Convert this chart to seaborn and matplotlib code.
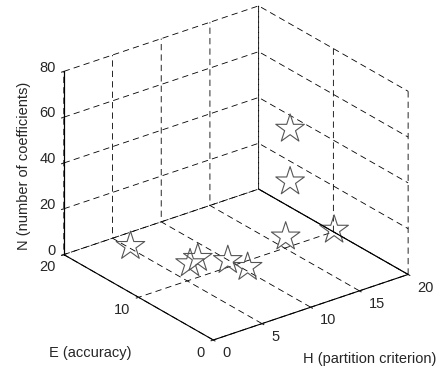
import numpy as np
import matplotlib
matplotlib.use("Agg")
import matplotlib.pyplot as plt
import seaborn as sns
from matplotlib.transforms import IdentityTransform
from mpl_toolkits.mplot3d import proj3d

# Models: partition criterion H, accuracy E, number of coefficients N
H = [5.0, 6.9, 8.0, 9.7, 10.2, 16.1, 16.4, 16.4, 20.0]
E = [17.6, 12.1, 12.5, 10.7, 8.7, 11.3, 11.1, 11.1, 9.9]
N = [1, 1, 1, 1, 1, 1, 25, 48, 1]

h_ticks = [0, 5, 10, 15, 20]
e_ticks = [0, 10, 20]
n_ticks = [0, 20, 40, 60, 80]
h_label = "H (partition criterion)"
e_label = "E (accuracy)"
n_label = "N (number of coefficients)"

sns.set_theme(style="white")
plt.rcParams.update({
    "font.family": ["Liberation Sans", "DejaVu Sans"],
    "font.size": 10.5,
    "lines.scale_dashes": False,
})

W, HT = 443, 372
fig = plt.figure(figsize=(W / 100, HT / 100), dpi=100)
fig.patch.set_facecolor("white")
ax = fig.add_axes([0, 0, 1, 1], projection="3d")
ax.set_facecolor("white")
ax.set_proj_type("ortho")
ax.view_init(elev=26, azim=-127.5)
ax.set_box_aspect((1, 1, 0.83))

star_color = "#555555"
ax.scatter(H, E, N, marker="*", s=467, facecolors="none",
           edgecolors=star_color, linewidths=0.8, depthshade=False)

# solid floor edge on the far side at H = max
ax.plot([h_ticks[-1]] * 2, [e_ticks[0], e_ticks[-1]], [n_ticks[0]] * 2,
        color="black", lw=0.8)
# solid vertical N axis at the left corner
ax.plot([h_ticks[0]] * 2, [e_ticks[-1]] * 2, [n_ticks[0], n_ticks[-1]],
        color="black", lw=0.8)

ax.set_xlim(h_ticks[0], h_ticks[-1])
ax.set_ylim(e_ticks[0], e_ticks[-1])
ax.set_zlim(n_ticks[0], n_ticks[-1])
ax.set_xticks(h_ticks)
ax.set_yticks(e_ticks)
ax.set_zticks(n_ticks)
ax.set_xticklabels([])
ax.set_yticklabels([])
ax.set_zticklabels([])
ax.grid(True)

for axis in (ax.xaxis, ax.yaxis, ax.zaxis):
    axis.pane.set_facecolor((1, 1, 1, 0))
    axis.pane.set_edgecolor((1, 1, 1, 0))
    axis.line.set_color("black")
    axis.line.set_linewidth(0.8)
    axis._axinfo["grid"].update(color="black", linewidth=0.6,
                                linestyle=(0, (4.5, 3.0)))
    axis._axinfo["tick"].update(inward_factor=0.15, outward_factor=0.0)
    axis._axinfo["tick"]["linewidth"] = {True: 0.8, False: 0.5}
    axis._axinfo["tick"]["color"] = "black"


def to_px(x, y, z):
    xs, ys, _ = proj3d.proj_transform(np.atleast_1d(np.asarray(x, float)),
                                      np.atleast_1d(np.asarray(y, float)),
                                      np.atleast_1d(np.asarray(z, float)),
                                      ax.get_proj())
    return ax.transData.transform(np.column_stack([xs, ys]))


# place the box: front corner and far end of the H axis (display px, y up)
target_o = np.array([213.3, HT - 340.0])
target_h = np.array([408.3, HT - 275.0])
for _ in range(4):
    fig.canvas.draw()
    o, hend = to_px([h_ticks[0], h_ticks[-1]], [e_ticks[0]] * 2, [n_ticks[0]] * 2)
    bb = ax.bbox
    c = np.array([(bb.x0 + bb.x1) / 2, (bb.y0 + bb.y1) / 2])
    side = bb.width
    f = np.linalg.norm(target_h - target_o) / np.linalg.norm(hend - o)
    nc = target_o - f * (o - c)
    ns = side * f
    ax.set_position([(nc[0] - ns / 2) / W, (nc[1] - ns / 2) / HT, ns / W, ns / HT])
fig.canvas.draw()

ident = IdentityTransform()
for t in h_ticks:
    p = to_px(t, e_ticks[0], n_ticks[0])[0]
    fig.text(p[0] + 9.0, p[1] - 17.2, str(t), transform=ident,
             ha="left", va="baseline")
for t in e_ticks:
    p = to_px(h_ticks[0], t, n_ticks[0])[0]
    fig.text(p[0] - 8.5, p[1] - 16.7, str(t), transform=ident,
             ha="right", va="baseline")
for t in n_ticks:
    p = to_px(h_ticks[0], e_ticks[-1], t)[0]
    fig.text(p[0] - 8.0, p[1] - 0.2, str(t), transform=ident,
             ha="right", va="baseline")

fig.text(90, HT - 357.3, e_label, transform=ident, ha="center", va="baseline")
fig.text(370, HT - 363.3, h_label, transform=ident, ha="center", va="baseline")
fig.text(27.7, HT - 165.7, n_label, transform=ident, ha="center",
         va="baseline", rotation=90, rotation_mode="anchor")

fig.savefig("out.png", dpi=100, facecolor="white")
